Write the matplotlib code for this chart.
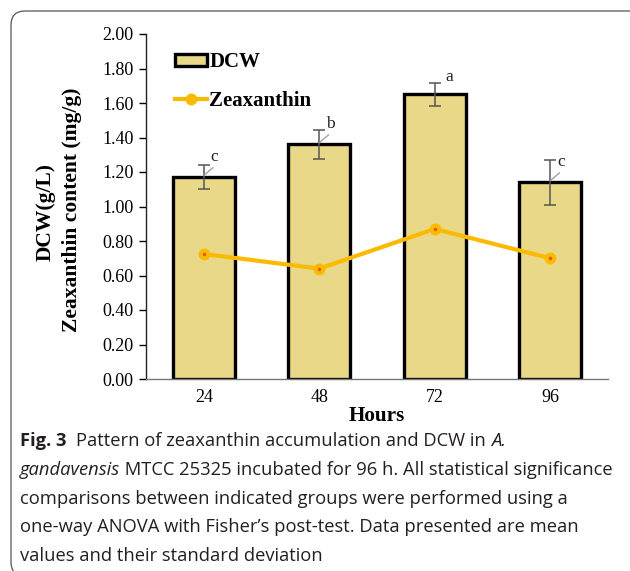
import matplotlib
matplotlib.use("Agg")
import matplotlib.pyplot as plt
from matplotlib.patches import FancyBboxPatch, Rectangle
from matplotlib.lines import Line2D
from matplotlib.transforms import IdentityTransform
import numpy as np

hours = ["24", "48", "72", "96"]
dcw = [1.17, 1.36, 1.65, 1.14]
dcw_err = [0.07, 0.085, 0.065, 0.13]
zea = [0.725, 0.64, 0.87, 0.70]
letters = ["c", "b", "a", "c"]
yticks = [0.0, 0.2, 0.4, 0.6, 0.8, 1.0, 1.2, 1.4, 1.6, 1.8, 2.0]

W, H = 630, 571
fig = plt.figure(figsize=(W / 100, H / 100), dpi=100)
fig.patch.set_facecolor("white")

serif = ["Liberation Serif", "DejaVu Serif"]

# rounded frame (pixel coordinates, origin bottom-left)
frame = FancyBboxPatch((11, -5), 640, H - 11 + 5,
                       boxstyle="round,pad=0,rounding_size=14",
                       transform=IdentityTransform(), fill=False,
                       edgecolor="#555555", linewidth=0.9, clip_on=False)
fig.patches.append(frame)

ax = fig.add_axes([146 / W, (H - 379) / H, (608 - 146) / W, (379 - 34) / H])
x = np.arange(len(hours)) + 0.5
ax.bar(x, dcw, width=0.54, color="#E8D888", edgecolor="black", linewidth=2.4, zorder=2)
ax.errorbar(x, dcw, yerr=dcw_err, fmt="none", ecolor="#555555", elinewidth=1.1,
            capsize=4, capthick=1.1, zorder=4)
ax.plot(x, zea, color="#FBBA00", linewidth=3, marker="o", markersize=7.5,
        markerfacecolor="#FBBA00", markeredgecolor="#FBBA00", zorder=5)
ax.plot(x, zea, linestyle="none", marker="o", markersize=1.5, color="#E05A00", zorder=6)

# significance letters with leader lines
lead = [True, True, False, True]
for xi, v, e, l, ld in zip(x, dcw, dcw_err, letters, lead):
    if ld:
        ax.plot([xi, xi + 0.08], [v + 0.01, v + 0.055], color="#999999", linewidth=0.9, zorder=5)
        ax.text(xi + 0.06, v + 0.07, l, fontsize=12.5, family=serif, ha="left", va="bottom", color="#222222")
    else:
        ax.text(xi + 0.09, v + e - 0.01, l, fontsize=12.5, family=serif, ha="left", va="bottom", color="#222222")

ax.set_xlim(0, 4)
ax.set_ylim(0, 2.0)
ax.set_yticks(yticks)
ax.set_yticklabels([f"{t:.2f}" for t in yticks], fontsize=13, family=serif)
ax.set_xticks(x)
ax.set_xticklabels(hours, fontsize=13, family=serif)
ax.tick_params(axis="x", length=0, pad=7)
ax.tick_params(axis="y", length=5, width=1, direction="out", pad=4)
for s in ["top", "right"]:
    ax.spines[s].set_visible(False)
ax.spines["left"].set_color("#222222")
ax.spines["bottom"].set_color("#777777")
ax.spines["left"].set_linewidth(1.0)
ax.spines["bottom"].set_linewidth(1.0)

ax.set_xlabel("Hours", fontsize=15.2, family=serif, fontweight="bold", labelpad=0)
fig.text(46 / W, 1 - 212 / H, "DCW(g/L)", rotation=90, ha="center", va="center",
         fontsize=15.5, family=serif, fontweight="bold")
fig.text(72 / W, 1 - 210 / H, "Zeaxanthin content (mg/g)", rotation=90, ha="center", va="center",
         fontsize=15.5, family=serif, fontweight="bold")

# legend
h1 = Rectangle((0, 0), 1, 1, facecolor="#E8D888", edgecolor="black", linewidth=2.4)
h2 = Line2D([0], [0], color="#FBBA00", linewidth=3, marker="o", markersize=7.5)
leg = ax.legend([h1, h2], ["DCW", "Zeaxanthin"], loc="upper left",
                bbox_to_anchor=(19 / 462, 1 - 8 / 345), frameon=False,
                prop={"family": serif, "weight": "bold", "size": 15},
                handlelength=1.5, handleheight=0.55, handletextpad=0.12, labelspacing=0.9,
                borderpad=0)

# caption
cap_font = ["Open Sans", "DejaVu Sans"]
cap_fs = 13.25
col = "#231F20"
y0 = 446
dy = 28.8
x0 = 20 / W
t = fig.text(x0, 1 - y0 / H, "Fig. 3", fontsize=cap_fs, family=cap_font, fontweight="bold",
             color=col, va="baseline")
fig.canvas.draw()
r = fig.canvas.get_renderer()
bb = t.get_window_extent(r)
xs = bb.x1 / W + 10 / W
t2 = fig.text(xs, 1 - y0 / H, "Pattern of zeaxanthin accumulation and DCW in ", fontsize=cap_fs,
              family=cap_font, color=col, va="baseline")
fig.canvas.draw()
bb2 = t2.get_window_extent(r)
fig.text(bb2.x1 / W, 1 - y0 / H, "A.", fontsize=cap_fs, family=cap_font, style="italic",
         color=col, va="baseline")

t3 = fig.text(x0, 1 - (y0 + dy) / H, "gandavensis", fontsize=cap_fs, family=cap_font,
              style="italic", color=col, va="baseline")
fig.canvas.draw()
bb3 = t3.get_window_extent(r)
fig.text(bb3.x1 / W, 1 - (y0 + dy) / H,
         " MTCC 25325 incubated for 96 h. All statistical significance",
         fontsize=cap_fs, family=cap_font, color=col, va="baseline")
rest = ["comparisons between indicated groups were performed using a",
        "one-way ANOVA with Fisher\u2019s post-test. Data presented are mean",
        "values and their standard deviation"]
for i, line in enumerate(rest):
    fig.text(x0, 1 - (y0 + dy * (i + 2)) / H, line, fontsize=cap_fs, family=cap_font,
             color=col, va="baseline")

fig.savefig("out.png", dpi=100, facecolor="white")
